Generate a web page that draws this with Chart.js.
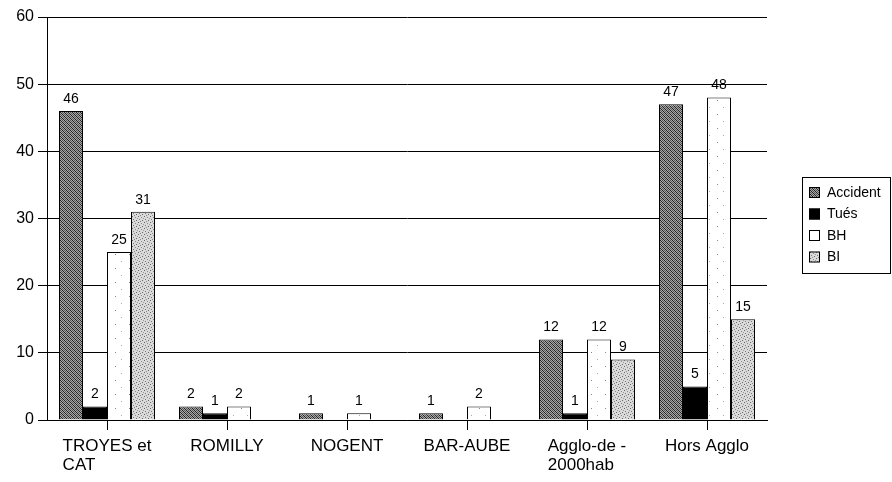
<!DOCTYPE html>
<html>
<head>
<meta charset="utf-8">
<script src="https://cdn.jsdelivr.net/npm/chart.js@4.4.1/dist/chart.umd.min.js"></script>
<style>
  html, body { margin: 0; padding: 0; background: #fff; }
  #wrap { width: 892px; height: 482px; position: relative; }
</style>
</head>
<body>
<div id="wrap"><canvas id="accChart" width="892" height="482"></canvas></div>
<script>
// Données
const categories = [['TROYES et', 'CAT'], ['ROMILLY'], ['NOGENT'], ['BAR-AUBE'], ['Agglo-de -', '2000hab'], ['Hors Agglo']];
const seriesNames = ['Accident', 'Tués', 'BH', 'BI'];
const accidents = [46, 2, 1, 1, 12, 47];
const tues = [2, 1, 0, 0, 1, 5];
const bh = [25, 2, 1, 2, 12, 48];
const bi = [31, 0, 0, 0, 9, 15];
const yTicks = [0, 10, 20, 30, 40, 50, 60];

const FONT = '"Liberation Sans", Arial, sans-serif';

// petits motifs pour imiter les trames
function makePattern(size, bg, dots) {
    const c = document.createElement('canvas');
    c.width = size;
    c.height = size;
    const g = c.getContext('2d');
    g.fillStyle = bg;
    g.fillRect(0, 0, size, size);
    dots.forEach(d => {
        g.fillStyle = d[2];
        g.fillRect(d[0], d[1], 1, 1);
    });
    return g.createPattern(c, 'repeat');
}

function buildPatterns() {
    const hatch = makePattern(4, '#a8a8a8', [
        [0, 0, '#222'], [1, 1, '#222'], [2, 2, '#222'], [3, 3, '#222'],
        [2, 0, '#555'], [3, 1, '#555'], [0, 2, '#555'], [1, 3, '#555']
    ]);
    const dotted = makePattern(6, '#dadada', [
        [0, 0, '#666'], [3, 1, '#888'], [1, 3, '#777'], [4, 4, '#666'], [5, 2, '#999'], [2, 5, '#888']
    ]);
    const sparse = makePattern(14, '#ffffff', [[3, 2, '#888'], [9, 9, '#aaa']]);
    return [hatch, '#000', sparse, dotted];
}

// étiquettes de valeurs au-dessus des barres
const valueLabels = {
    id: 'valueLabels',
    afterDatasetsDraw(chart) {
        const ctx = chart.ctx;
        ctx.save();
        ctx.font = '14px ' + FONT;
        ctx.fillStyle = '#000';
        ctx.textAlign = 'center';
        ctx.textBaseline = 'bottom';
        chart.data.datasets.forEach((ds, i) => {
            const meta = chart.getDatasetMeta(i);
            meta.data.forEach((bar, j) => {
                const v = ds.data[j];
                if (v > 0) ctx.fillText(String(v), bar.x, bar.y - 5);
            });
        });
        ctx.restore();
    }
};

// libellés de l'axe x, lignes alignées à gauche
const xLabels = {
    id: 'xLabels',
    afterDraw(chart) {
        const ctx = chart.ctx;
        const xs = chart.scales.x;
        ctx.save();
        ctx.font = '17px ' + FONT;
        ctx.fillStyle = '#000';
        ctx.textAlign = 'left';
        ctx.textBaseline = 'top';
        categories.forEach((lines, i) => {
            const cx = xs.getPixelForTick(i);
            const w = Math.max(...lines.map(l => ctx.measureText(l).width));
            lines.forEach((l, k) => ctx.fillText(l, cx - w / 2, xs.top + 18 + k * 19));
        });
        ctx.restore();
    }
};

// légende encadrée à droite
const boxLegend = {
    id: 'boxLegend',
    afterDraw(chart) {
        const ctx = chart.ctx;
        ctx.save();
        ctx.strokeStyle = '#000';
        ctx.lineWidth = 1;
        ctx.strokeRect(802.5, 177.5, 88, 96);
        ctx.font = '14px ' + FONT;
        ctx.textBaseline = 'middle';
        chart.data.datasets.forEach((ds, i) => {
            const y = 192 + i * 21.5;
            ctx.fillStyle = ds.backgroundColor;
            ctx.fillRect(809, y - 5, 11, 11);
            ctx.strokeRect(809.5, y - 4.5, 10, 10);
            ctx.fillStyle = '#000';
            ctx.fillText(ds.label, 827, y + 1);
        });
        ctx.restore();
    }
};

function initializeChart() {
    const el = document.getElementById('accChart');
    if (!el) {
        console.error('canvas introuvable');
        return;
    }
    const fills = buildPatterns();
    const values = [accidents, tues, bh, bi];
    const datasets = seriesNames.map((name, i) => ({
        label: name,
        data: values[i],
        backgroundColor: fills[i],
        borderColor: '#000',
        borderWidth: 1,
        categoryPercentage: 0.8,
        barPercentage: 1.0
    }));

    new Chart(el.getContext('2d'), {
        type: 'bar',
        data: { labels: categories.map(c => c.join(' ')), datasets: datasets },
        options: {
            responsive: false,
            animation: false,
            events: [],
            layout: { padding: { top: 17, right: 125, left: 0, bottom: 0 } },
            plugins: { legend: { display: false }, tooltip: { enabled: false } },
            scales: {
                x: {
                    offset: true,
                    afterFit: s => { s.height = 62; },
                    border: { display: true, color: '#000', width: 1 },
                    grid: { offset: false, drawOnChartArea: false, drawTicks: true, tickLength: 10, color: '#000' },
                    ticks: { display: false }
                },
                y: {
                    min: 0,
                    max: 60,
                    afterFit: s => { s.width = 47; },
                    afterBuildTicks: s => { s.ticks = yTicks.map(v => ({ value: v })); },
                    border: { display: true, color: '#000', width: 1 },
                    grid: { color: '#000', lineWidth: 1, tickLength: 9 },
                    ticks: { color: '#000', padding: 4, font: { family: FONT, size: 16 } }
                }
            }
        },
        plugins: [valueLabels, xLabels, boxLegend]
    });
}

document.addEventListener('DOMContentLoaded', () => {
    initializeChart();
});
</script>
</body>
</html>
